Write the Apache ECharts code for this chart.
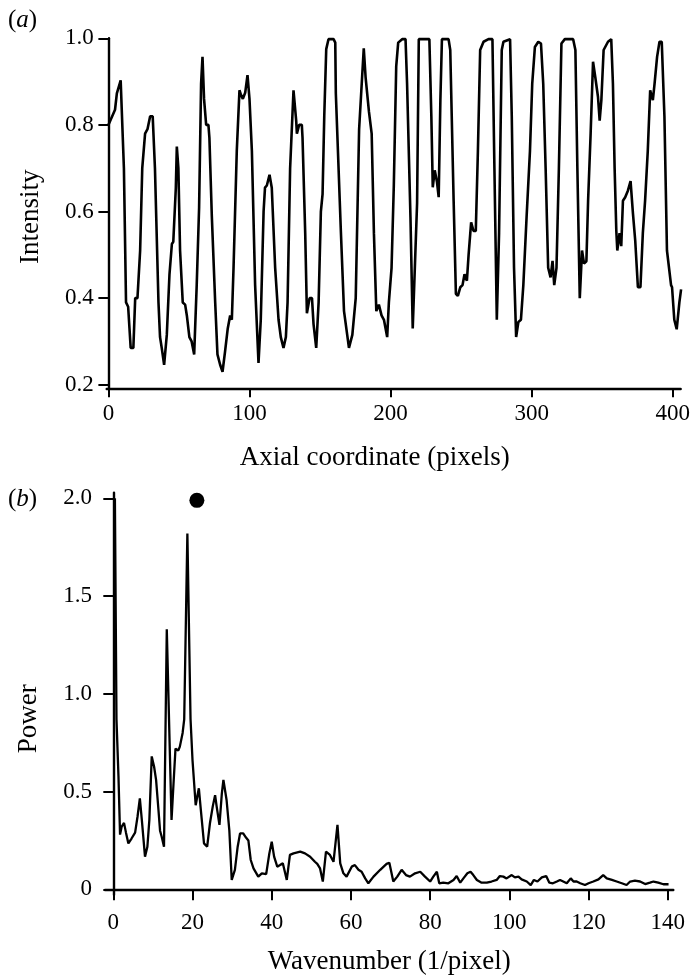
<!DOCTYPE html>
<html>
<head>
<meta charset="utf-8">
<script src="https://cdn.jsdelivr.net/npm/echarts@6/dist/echarts.min.js"></script>
<style>
  html, body { margin: 0; padding: 0; background: #fff; }
  #chart { width: 693px; height: 978px; }
</style>
</head>
<body>
<div id="chart"></div>
<script>
// (a) intensity profile along the axis
var axialPx = [0, 1, 4.7, 6, 8.7, 11, 12.5, 14, 15.8, 17.7, 19, 20.6, 22.5, 24, 26, 27.7, 29.6, 31.4, 33, 35.5,
  36.6, 37.8, 39.5, 41.4, 43.3, 45, 46, 47.8, 48.5, 49.6, 50.8, 52.7, 54.4, 55.6, 57.4, 59, 60.8, 62.6, 64.3, 65.7,
  66.7, 67.8, 69.3, 70.9, 71.6, 73.3, 75.7, 77.3, 79.2, 80.9, 82.7, 84.6, 86.3, 87.5, 88.7, 91, 92.9, 93.9, 95.3, 97,
  98.6, 100, 101.7, 104, 106.4, 108, 110, 111, 112.3, 114.2, 115.8, 118.2, 120.6, 122.2, 124.1, 125.8, 127, 128.8, 131.2, 133.1,
  133.6, 135.2, 137.1, 137.6, 139.5, 140.7, 142.6, 144.3, 145.4, 147.3, 149, 150.6, 151.8, 153, 154.4, 156, 159.6, 160.8, 161.2, 164.7,
  167, 170.5, 172.9, 175.3, 177.7, 181, 182.3, 184.7, 186.6, 188.2, 189.9, 191.7, 193.6, 195.3, 197.6, 198.8, 200.7, 202.3, 204, 205.4,
  208.2, 210.6, 211.7, 214.1, 215.7, 217.1, 218.8, 220, 227.5, 228.9, 229.9, 231.3, 232.9, 234.1, 235.3, 236.4, 241.1, 242.3, 244.7, 246.3,
  247.7, 249.4, 251, 252.4, 254.1, 255.3, 257.1, 258.8, 260.4, 261.9, 263.5, 265.9, 269.4, 272.2, 273.6, 275.3, 276.9, 278.8, 280, 284.7,
  285.9, 287.5, 289, 290.6, 292.4, 294.1, 296.4, 298.8, 300.4, 302.3, 304.7, 306.6, 308.2, 309.9, 311.7, 313.4, 314.8, 316, 317.6, 319.3,
  321.1, 323.5, 329.4, 331, 332.4, 334.1, 335.7, 337.1, 338.8, 340, 341.8, 343.5, 345.1, 347, 348.2, 349.4, 351, 354.1, 356.4, 357.6,
  358.8, 360, 360.7, 362.3, 363.5, 364.7, 366.3, 368.2, 370.1, 371.8, 373.4, 375.3, 377.1, 378.8, 380.4, 382.3, 384, 385.9, 387.1, 388.9,
  390.6, 392.2, 394.1, 395.9, 398.8, 399.5, 401.1, 402.8, 404.7, 405.9];
var intensity = [0.80, 0.80, 0.835, 0.873, 0.903, 0.70, 0.39, 0.38, 0.285, 0.285, 0.40, 0.40, 0.51, 0.70, 0.78, 0.79, 0.82, 0.82, 0.70, 0.39,
  0.31, 0.285, 0.246, 0.315, 0.455, 0.525, 0.53, 0.655, 0.75, 0.70, 0.51, 0.39, 0.385, 0.36, 0.31, 0.30, 0.27, 0.43, 0.61, 0.895,
  0.957, 0.86, 0.80, 0.80, 0.77, 0.59, 0.39, 0.27, 0.246, 0.23, 0.277, 0.33, 0.36, 0.35, 0.47, 0.74, 0.88, 0.87, 0.86, 0.875,
  0.915, 0.86, 0.74, 0.43, 0.25, 0.35, 0.60, 0.655, 0.66, 0.685, 0.655, 0.47, 0.35, 0.31, 0.285, 0.31, 0.39, 0.70, 0.88, 0.81,
  0.78, 0.80, 0.80, 0.77, 0.55, 0.365, 0.40, 0.40, 0.34, 0.285, 0.39, 0.60, 0.64, 0.82, 0.975, 0.998, 0.998, 0.99, 0.873, 0.56,
  0.37, 0.285, 0.315, 0.40, 0.79, 0.977, 0.91, 0.83, 0.78, 0.55, 0.37, 0.385, 0.36, 0.35, 0.31, 0.39, 0.47, 0.66, 0.935, 0.99,
  0.998, 0.998, 0.895, 0.587, 0.33, 0.33, 0.62, 0.998, 0.998, 0.82, 0.656, 0.695, 0.668, 0.633, 0.857, 0.998, 0.998, 0.973, 0.625, 0.41,
  0.405, 0.425, 0.43, 0.455, 0.44, 0.50, 0.575, 0.555, 0.555, 0.74, 0.973, 0.992, 0.998, 0.998, 0.70, 0.35, 0.55, 0.973, 0.992, 0.998,
  0.82, 0.47, 0.31, 0.345, 0.35, 0.43, 0.587, 0.74, 0.895, 0.98, 0.992, 0.988, 0.895, 0.70, 0.47, 0.448, 0.486, 0.43, 0.47, 0.70,
  0.988, 0.998, 0.998, 0.973, 0.70, 0.40, 0.51, 0.48, 0.485, 0.625, 0.78, 0.946, 0.91, 0.865, 0.81, 0.857, 0.973, 0.992, 0.998, 0.895,
  0.70, 0.555, 0.51, 0.55, 0.52, 0.625, 0.633, 0.648, 0.67, 0.595, 0.533, 0.425, 0.425, 0.55, 0.625, 0.74, 0.88, 0.857, 0.895, 0.957,
  0.992, 0.992, 0.82, 0.51, 0.43, 0.425, 0.35, 0.328, 0.39, 0.42];
var axialTicks = [0, 100, 200, 300, 400];
var intensityTicks = [0.2, 0.4, 0.6, 0.8, 1.0];

// (b) power spectrum
var wavenumber = [0.4, 0.8, 1.3, 1.7, 2.1, 2.7, 3.2, 3.8, 4.6, 5.5, 6.1, 6.7, 7.2, 8.0, 8.6, 9.1, 9.7, 10.3, 10.8, 11.4,
  11.8, 12.2, 12.8, 13.5, 14.7, 15.2, 15.7, 16.4, 16.8, 17.5, 17.9, 18.7, 19.5, 20.0, 20.8, 21.2, 21.6, 22.1, 22.9, 23.7,
  24.4, 25.1, 25.7, 26.1, 26.8, 27.4, 27.8, 28.6, 29.3, 29.9, 30.7, 31.4, 32.0, 32.8, 33.5, 34.1, 34.7, 35.4, 36.6, 37.5,
  38.6, 39.4, 40.0, 40.6, 41.4, 42.1, 42.8, 43.4, 43.8, 44.6, 45.5, 47.2, 48.4, 49.7, 50.9, 51.5, 52.2, 52.9, 53.7, 54.7,
  55.6, 56.6, 57.3, 58.1, 58.9, 60.2, 61.0, 61.9, 62.7, 63.6, 64.4, 65.7, 67.4, 69.0, 69.7, 70.7, 71.7, 72.8, 73.9, 74.9,
  76.2, 77.5, 78.7, 80.0, 80.8, 81.7, 82.3, 83.3, 84.6, 85.9, 86.7, 87.6, 88.4, 89.4, 90.2, 90.9, 91.8, 93.0, 94.3, 95.5,
  96.8, 97.6, 98.5, 99.3, 100.6, 101.4, 102.3, 103.1, 104.4, 105.4, 106.2, 107.1, 108.2, 109.3, 110.1, 111.0, 112.0, 112.8, 113.6, 114.5,
  115.5, 116.2, 117.0, 117.9, 119.1, 120.0, 121.2, 122.5, 123.7, 124.6, 125.9, 127.1, 128.4, 129.6, 130.5, 131.7, 133.0, 134.3, 135.5, 136.4,
  137.6, 138.9, 140.2];
var power = [2.0, 0.87, 0.58, 0.28, 0.32, 0.34, 0.29, 0.235, 0.26, 0.29, 0.37, 0.465, 0.355, 0.167, 0.218, 0.355, 0.68, 0.627, 0.56, 0.406,
  0.30, 0.27, 0.218, 1.33, 0.355, 0.54, 0.72, 0.71, 0.73, 0.80, 0.87, 1.82, 0.87, 0.66, 0.43, 0.475, 0.517, 0.406, 0.235, 0.218,
  0.338, 0.423, 0.482, 0.423, 0.33, 0.49, 0.56, 0.457, 0.30, 0.048, 0.10, 0.218, 0.286, 0.286, 0.265, 0.25, 0.15, 0.107, 0.065, 0.082,
  0.078, 0.184, 0.244, 0.167, 0.116, 0.124, 0.133, 0.082, 0.048, 0.176, 0.184, 0.193, 0.184, 0.167, 0.141, 0.13, 0.107, 0.04, 0.193, 0.176,
  0.141, 0.33, 0.133, 0.082, 0.065, 0.116, 0.124, 0.10, 0.09, 0.056, 0.031, 0.065, 0.10, 0.13, 0.136, 0.04, 0.065, 0.10, 0.073, 0.065,
  0.082, 0.09, 0.065, 0.04, 0.065, 0.09, 0.031, 0.034, 0.031, 0.048, 0.068, 0.034, 0.056, 0.082, 0.09, 0.073, 0.048, 0.034, 0.034, 0.04,
  0.048, 0.068, 0.065, 0.056, 0.073, 0.061, 0.065, 0.051, 0.04, 0.022, 0.048, 0.04, 0.061, 0.068, 0.034, 0.031, 0.04, 0.048, 0.04, 0.031,
  0.056, 0.04, 0.04, 0.031, 0.022, 0.031, 0.04, 0.051, 0.073, 0.056, 0.048, 0.04, 0.031, 0.022, 0.04, 0.044, 0.04, 0.027, 0.034, 0.04,
  0.034, 0.026, 0.026];
var peakWavenumber = [21.1];
var peakPower = [1.99];
var wavenumberTicks = [0, 20, 40, 60, 80, 100, 120, 140];
var powerTicks = [0, 0.5, 1.0, 1.5, 2.0];

function zip(xs, ys) {
  return xs.map(function (x, i) { return [x, ys[i]]; });
}

var chart = echarts.init(document.getElementById('chart'), null, { renderer: 'canvas' });

var font = 'Liberation Serif';
var ink = '#000';
var axisLine = { lineStyle: { color: ink, width: 2.4 } };
var labelStyle = { color: ink, fontFamily: font, fontSize: 23 };
var nameStyle = { color: ink, fontFamily: font, fontSize: 27 };

function oneDecimal(v) {
  return v === 0 ? '0' : v.toFixed(1);
}

var option = {
  backgroundColor: '#fff',
  animation: false,
  grid: [
    { left: 106.7, top: 38.3, width: 576.3, height: 350 },
    { left: 105, top: 492.7, width: 568.3, height: 402.3 }
  ],
  xAxis: [{
    gridIndex: 0,
    type: 'value',
    min: -1.2,
    max: 405.6,
    name: 'Axial coordinate (pixels)',
    nameLocation: 'middle',
    nameGap: 56,
    nameTextStyle: Object.assign({ padding: [0, 38, 0, 0] }, nameStyle),
    axisLine: axisLine,
    axisTick: { show: true, length: 9, lineStyle: { color: ink, width: 2 }, customValues: axialTicks },
    axisLabel: Object.assign({ margin: 14, customValues: axialTicks }, labelStyle),
    splitLine: { show: false }
  }, {
    gridIndex: 1,
    type: 'value',
    min: -2.1,
    max: 141.4,
    name: 'Wavenumber (1/pixel)',
    nameLocation: 'middle',
    nameGap: 53,
    nameTextStyle: nameStyle,
    axisLine: axisLine,
    axisTick: { show: true, length: 11, lineStyle: { color: ink, width: 2 }, customValues: wavenumberTicks },
    axisLabel: Object.assign({ margin: 16, customValues: wavenumberTicks }, labelStyle),
    splitLine: { show: false }
  }],
  yAxis: [{
    gridIndex: 0,
    type: 'value',
    min: 0.1917,
    max: 1.0,
    name: 'Intensity',
    nameLocation: 'middle',
    nameGap: 62,
    nameTextStyle: Object.assign({ padding: [0, 7, 0, 0] }, nameStyle),
    axisLine: axisLine,
    axisTick: { show: true, length: 10, lineStyle: { color: ink, width: 2 }, customValues: intensityTicks },
    axisLabel: Object.assign({ margin: 13, customValues: intensityTicks, formatter: oneDecimal }, labelStyle),
    splitLine: { show: false }
  }, {
    gridIndex: 1,
    type: 'value',
    min: -0.029,
    max: 2.029,
    name: 'Power',
    nameLocation: 'middle',
    nameGap: 63,
    nameTextStyle: Object.assign({ padding: [0, 50, 0, 0] }, nameStyle),
    axisLine: axisLine,
    axisTick: { show: true, length: 10, lineStyle: { color: ink, width: 2 }, customValues: powerTicks },
    axisLabel: Object.assign({ margin: 13, customValues: powerTicks, formatter: oneDecimal }, labelStyle),
    splitLine: { show: false }
  }],
  graphic: [{
    type: 'text',
    left: 8,
    top: 8,
    style: {
      text: '({i|a})',
      font: '25px "Liberation Serif"',
      fill: ink,
      rich: { i: { fontStyle: 'italic', fontSize: 25, fontFamily: font } }
    }
  }, {
    type: 'text',
    left: 8,
    top: 487,
    style: {
      text: '({i|b})',
      font: '25px "Liberation Serif"',
      fill: ink,
      rich: { i: { fontStyle: 'italic', fontSize: 25, fontFamily: font } }
    }
  }],
  series: [{
    type: 'line',
    xAxisIndex: 0,
    yAxisIndex: 0,
    data: zip(axialPx, intensity),
    showSymbol: false,
    clip: false,
    lineStyle: { color: ink, width: 2.6 }
  }, {
    type: 'line',
    xAxisIndex: 1,
    yAxisIndex: 1,
    data: zip(wavenumber, power),
    showSymbol: false,
    clip: false,
    lineStyle: { color: ink, width: 2.3 }
  }, {
    type: 'scatter',
    xAxisIndex: 1,
    yAxisIndex: 1,
    data: zip(peakWavenumber, peakPower),
    symbolSize: 15,
    itemStyle: { color: ink, opacity: 1 }
  }]
};

chart.setOption(option);
</script>
</body>
</html>
